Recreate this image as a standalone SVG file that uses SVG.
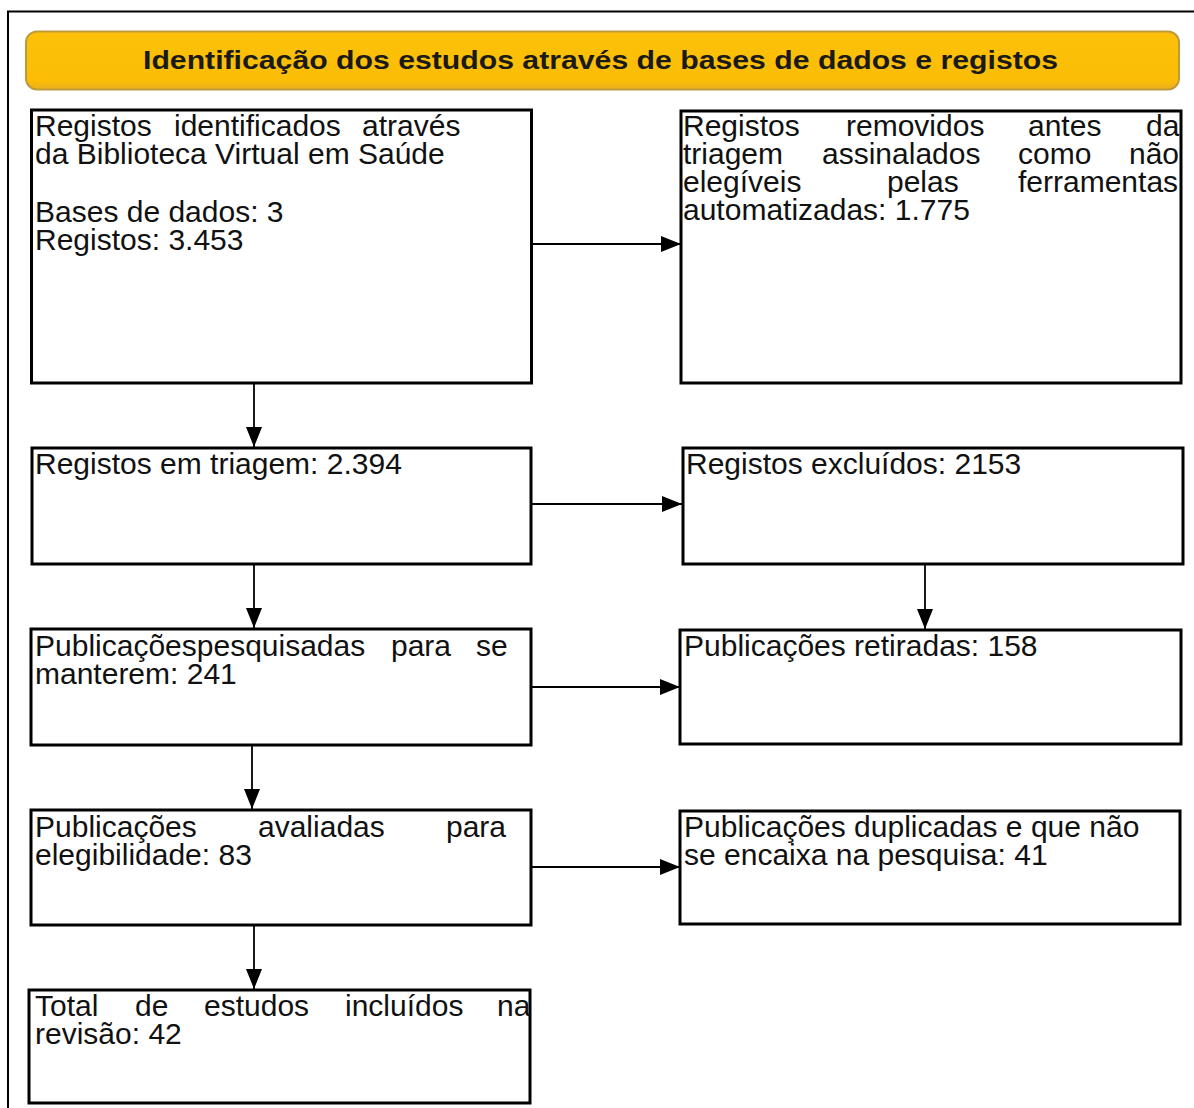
<svg xmlns="http://www.w3.org/2000/svg" width="1194" height="1108" viewBox="0 0 1194 1108">
<defs>
<style>
.box{fill:#fff;stroke:#000;stroke-width:3}
.t{font-family:"Liberation Sans",Arial,sans-serif;font-size:30px;fill:#111}
.c{stroke:#000;stroke-width:1.8;fill:none}
.ttl{font-family:"Liberation Sans",Arial,sans-serif;font-size:25px;font-weight:bold;fill:#1a1a1a}
</style>
<marker id="ah" markerUnits="userSpaceOnUse" markerWidth="22" markerHeight="18" refX="20" refY="8" orient="auto">
<path d="M0,0 L20,8 L0,16 Z" fill="#000"/>
</marker>
<linearGradient id="hg" x1="0" y1="0" x2="0" y2="1">
<stop offset="0" stop-color="#FDC10A"/>
<stop offset="0.85" stop-color="#FBBD05"/>
<stop offset="1" stop-color="#E8B020"/>
</linearGradient>
</defs>
<rect width="1194" height="1108" fill="#fff"/>
<path d="M8,1108 L8,11.5 L1194,11.5" fill="none" stroke="#000" stroke-width="2"/>

<g id="header">
<rect x="26" y="31.5" width="1153" height="58" rx="11" fill="url(#hg)" stroke="#BF9A3C" stroke-width="2"/>
<text class="ttl" x="143" y="69" textLength="915" lengthAdjust="spacingAndGlyphs">Identificação dos estudos através de bases de dados e registos</text>
</g>

<g id="connectors">
<line class="c" x1="532" y1="244" x2="681" y2="244" marker-end="url(#ah)"/>
<line class="c" x1="254" y1="384" x2="254" y2="447" marker-end="url(#ah)"/>
<line class="c" x1="532" y1="504" x2="682" y2="504" marker-end="url(#ah)"/>
<line class="c" x1="925" y1="565" x2="925" y2="629" marker-end="url(#ah)"/>
<line class="c" x1="254" y1="565" x2="254" y2="628" marker-end="url(#ah)"/>
<line class="c" x1="531" y1="687" x2="680" y2="687" marker-end="url(#ah)"/>
<line class="c" x1="252" y1="746" x2="252" y2="809" marker-end="url(#ah)"/>
<line class="c" x1="531" y1="867" x2="680" y2="867" marker-end="url(#ah)"/>
<line class="c" x1="254" y1="926" x2="254" y2="989" marker-end="url(#ah)"/>
</g>

<g id="n1">
<rect class="box" x="31.5" y="110" width="500" height="273"/>
<text class="t"><tspan x="35" y="136">Registos</tspan><tspan x="174" y="136">identificados</tspan><tspan x="362" y="136">através</tspan><tspan x="35" y="164">da Biblioteca Virtual em Saúde</tspan><tspan x="35" y="222">Bases de dados: 3</tspan><tspan x="35" y="250">Registos: 3.453</tspan></text>
</g>

<g id="n2">
<rect class="box" x="681" y="111" width="500" height="272"/>
<text class="t"><tspan x="683" y="136">Registos</tspan><tspan x="846" y="136">removidos</tspan><tspan x="1028" y="136">antes</tspan><tspan x="1146" y="136">da</tspan><tspan x="683" y="164">triagem</tspan><tspan x="822" y="164">assinalados</tspan><tspan x="1018" y="164">como</tspan><tspan x="1129" y="164">não</tspan><tspan x="683" y="192">elegíveis</tspan><tspan x="887" y="192">pelas</tspan><tspan x="1018" y="192">ferramentas</tspan><tspan x="683" y="220">automatizadas: 1.775</tspan></text>
</g>

<g id="n3">
<rect class="box" x="32" y="448" width="499" height="116"/>
<text class="t" x="35" y="474">Registos em triagem: 2.394</text>
</g>

<g id="n4">
<rect class="box" x="683" y="448" width="500" height="116"/>
<text class="t" x="686" y="474">Registos excluídos: 2153</text>
</g>

<g id="n5">
<rect class="box" x="31" y="629" width="500" height="116"/>
<text class="t"><tspan x="35" y="656">Publicaçõespesquisadas</tspan><tspan x="391" y="656">para</tspan><tspan x="476" y="656">se</tspan><tspan x="35" y="684">manterem: 241</tspan></text>
</g>

<g id="n6">
<rect class="box" x="680" y="630" width="501" height="114"/>
<text class="t" x="684" y="656">Publicações retiradas: 158</text>
</g>

<g id="n7">
<rect class="box" x="31" y="810" width="500" height="115"/>
<text class="t"><tspan x="35" y="837">Publicações</tspan><tspan x="258" y="837">avaliadas</tspan><tspan x="446" y="837">para</tspan><tspan x="35" y="865">elegibilidade: 83</tspan></text>
</g>

<g id="n8">
<rect class="box" x="680" y="811" width="500" height="113"/>
<text class="t"><tspan x="684" y="837">Publicações duplicadas e que não</tspan><tspan x="684" y="865">se encaixa na pesquisa: 41</tspan></text>
</g>

<g id="n9">
<rect class="box" x="29" y="990" width="501" height="113"/>
<text class="t"><tspan x="35" y="1016">Total</tspan><tspan x="135" y="1016">de</tspan><tspan x="204" y="1016">estudos</tspan><tspan x="345" y="1016">incluídos</tspan><tspan x="497" y="1016">na</tspan><tspan x="35" y="1044">revisão: 42</tspan></text>
</g>
</svg>
